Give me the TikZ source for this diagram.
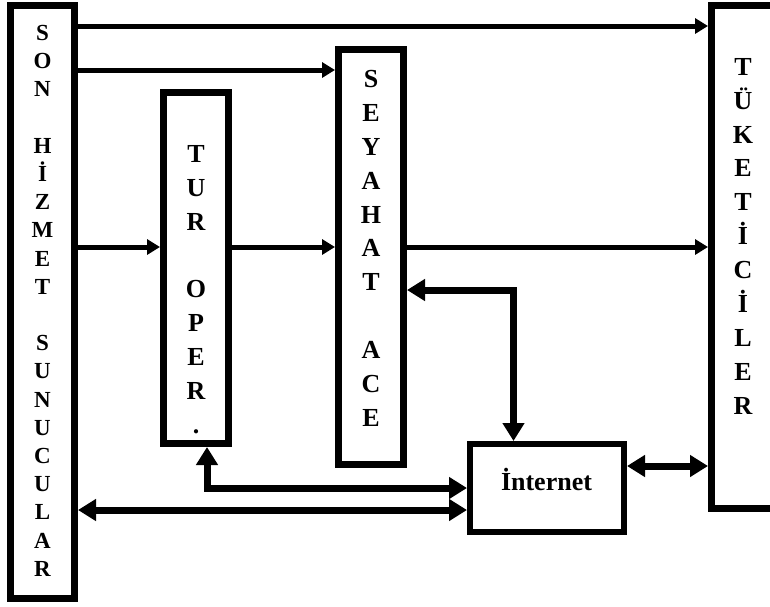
\documentclass[tikz,border=0pt]{standalone}
\usepackage{fontspec}
\setmainfont{Liberation Serif}
\usetikzlibrary{arrows.meta,calc}

\begin{document}
\begin{tikzpicture}[
    x=1pt,
    y=-1pt,
    box/.style={
        draw,
        line width=7pt,
        inner sep=0pt
    },
    column/.style={
        font=\bfseries\fontsize{26}{33.9}\selectfont,
        align=center,
        inner sep=0pt,
        anchor=north
    },
    flow/.style={
        -{Triangle[length=13pt,width=15pt]},
        line width=5pt
    },
    link/.style={
        {Triangle[length=18pt,width=21pt]}-{Triangle[length=18pt,width=21pt]},
        line width=7pt
    }
]

\useasboundingbox (0,0) rectangle (770,606);

% Boxes
\node[box, minimum width=64pt, minimum height=593pt] (son) at (42.5,302) {};
\node[box, minimum width=65pt, minimum height=351pt] (tur) at (196,268) {};
\node[box, minimum width=65pt, minimum height=415pt] (seyahat) at (371,257) {};
\node[box, minimum width=63pt, minimum height=503pt] (tuketici) at (743,257) {};
\node[box, line width=6pt, minimum width=154pt, minimum height=88pt] (internet) at (547,488) {};

% Vertical texts
\node[column, font=\bfseries\fontsize{23}{28.2}\selectfont] (sontxt) at (42.5,25)
    {S\\O\\N\\~\\H\\İ\\Z\\M\\E\\T\\~\\S\\U\\N\\U\\C\\U\\L\\A\\R};
\node[column] (turtxt) at (196,145)
    {T\\U\\R\\~\\O\\P\\E\\R\\.};
\node[column] (seytxt) at (371,70)
    {S\\E\\Y\\A\\H\\A\\T\\~\\A\\C\\E};
\node[column] (tuktxt) at (743,58)
    {T\\Ü\\K\\E\\T\\İ\\C\\İ\\L\\E\\R};
\node[font=\bfseries\fontsize{26}{30}\selectfont, anchor=base, inner sep=0pt] (nettxt) at (546.5,490)
    {İnternet};

% Row and column levels of the connectors
\coordinate (r1) at (0,26);
\coordinate (r2) at (0,70);
\coordinate (r3) at (0,247);
\coordinate (r4) at (0,290);
\coordinate (r5) at (0,466);
\coordinate (r6) at (0,488);
\coordinate (r7) at (0,510);
\coordinate (c1) at (207,0);
\coordinate (c2) at (513.5,0);

% One-way flows
\draw[flow] (son.east |- r1) -- (tuketici.west |- r1);
\draw[flow] (son.east |- r2) -- (seyahat.west |- r2);
\draw[flow] (son.east |- r3) -- (tur.west |- r3);
\draw[flow] (tur.east |- r3) -- (seyahat.west |- r3);
\draw[flow] (seyahat.east |- r3) -- (tuketici.west |- r3);

% Internet links
\draw[link] (seyahat.east |- r4) -| (c2 |- internet.north);
\draw[link] (c1 |- tur.south) |- (internet.west |- r6);
\draw[link] (son.east |- r7) -- (internet.west |- r7);
\draw[link] (internet.east |- r5) -- (tuketici.west |- r5);

\end{tikzpicture}
\end{document}
